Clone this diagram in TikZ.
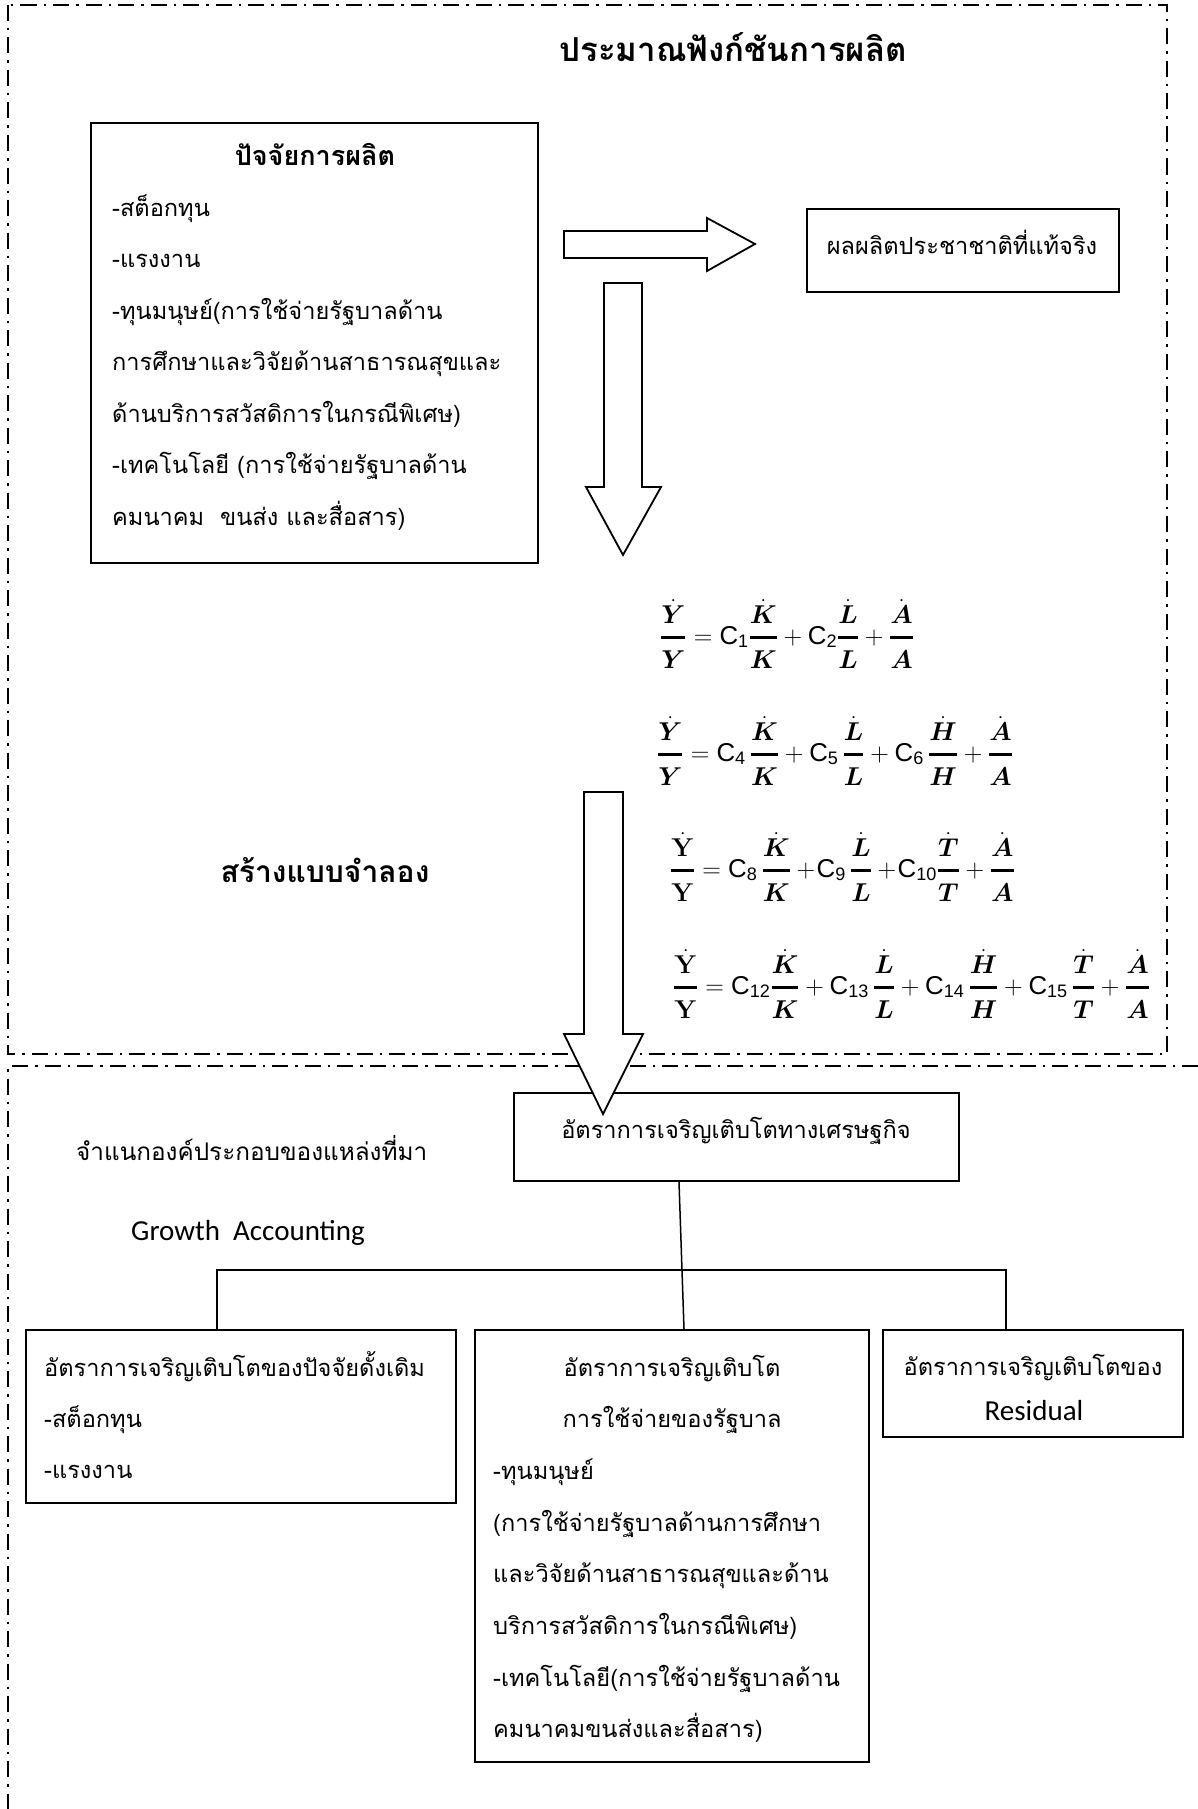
\RequirePackage{fix-cm}
\documentclass[tikz,border=0pt]{standalone}
\usepackage{amsmath}
\usepackage[no-math]{fontspec}
\setmainfont[Script=Thai]{Loma}
\newfontfamily\latinfont{Carlito}
\newfontfamily\eqfont{Liberation Sans}
% growth-rate fraction (dotted over plain) with a heavy rule and roomy gaps
\newcommand\fr[2]{\genfrac{}{}{2.7pt}{0}{#1\rule[-5pt]{0pt}{5pt}}{\rule{0pt}{21pt}#2}}
\newcommand\gr[1]{\fr{\dot{\boldsymbol{#1}}}{\boldsymbol{#1}}}
\newcommand\gy{\fr{\dot{\mathbf{Y}}}{\mathbf{Y}}}
% sans coefficient with its index
\newcommand\cc[1]{\text{\eqfont C}_{\text{\eqfont #1}}}
\begin{document}
\begin{tikzpicture}[x=1pt,y=-1pt,
  frame/.style={line width=1.6pt, dash pattern=on 16pt off 7pt on 2.5pt off 7pt},
  box/.style={draw, line width=2pt, inner sep=0pt},
  blockarrow/.style={draw, line width=1.8pt, fill=white, line join=miter},
  tree/.style={line width=1.5pt},
  txt/.style={inner sep=0pt, font=\fontsize{23.6}{28}\selectfont},
  ttl/.style={inner sep=0pt, font=\bfseries\fontsize{33}{38}\selectfont},
  sub/.style={inner sep=0pt, font=\bfseries\fontsize{27}{32}\selectfont},
  lat/.style={inner sep=0pt, font=\latinfont\fontsize{29}{34}\selectfont},
  eq/.style={inner sep=0pt, anchor=base west, font=\fontsize{25.8}{30}\selectfont}]
\useasboundingbox[fill=white] (0,0) rectangle (1198,1809);

% dash-dot frames of the two stages
\draw[frame] (8,5) rectangle (1167,1054);
\draw[frame] (1198,1066) -- (8,1066) -- (8,1809);

% ---------- upper stage: estimating the production function ----------
\node[ttl, anchor=base] (title) at (733,62) {ประมาณฟังก์ชันการผลิต};

\node[box, minimum width=447, minimum height=440] (fact) at (314.5,343) {};
\node[sub, anchor=base] (facttitle) at (315,165) {ปัจจัยการผลิต};
\foreach \t [count=\i] in {{-สต็อกทุน},{-แรงงาน},{-ทุนมนุษย์(การใช้จ่ายรัฐบาลด้าน},
  {การศึกษาและวิจัยด้านสาธารณสุขและ},{ด้านบริการสวัสดิการในกรณีพิเศษ)},
  {-เทคโนโลยี (การใช้จ่ายรัฐบาลด้าน},{คมนาคม~~ขนส่ง และสื่อสาร)}}
  \node[txt, anchor=base west] (fl\i) at (112,{216+51.5*(\i-1)}) {\t};

\node[box, minimum width=312, minimum height=83] (gdp) at (963,250.5) {};
\node[txt, anchor=base] (gdptext) at (962,254) {ผลผลิตประชาชาติที่แท้จริง};

% block arrows
\draw[blockarrow] (564,231) -- (707,231) -- (707,218) -- (755,244)
  -- (707,271) -- (707,258) -- (564,258) -- cycle;
\draw[blockarrow] (604,283) -- (642,283) -- (642,487) -- (661,487)
  -- (623,555) -- (586,487) -- (604,487) -- cycle;

% model equations
\node[eq] (eq1) at (660,644)
  {$\gr{Y} = \cc{1}\gr{K} + \cc{2}\gr{L} + \gr{A}$};
\node[eq] (eq2) at (657,761)
  {$\gr{Y} = \cc{4}\,\gr{K} + \cc{5}\,\gr{L} + \cc{6}\,\gr{H} + \gr{A}$};
\node[eq] (eq3) at (670,877)
  {$\gy = \cc{8}\,\gr{K} \mathbin{+}\!\cc{9}\,\gr{L} \mathbin{+}\!\cc{10}\gr{T} + \gr{A}$};
\node[eq] (eq4) at (673,994)
  {$\gy = \cc{12}\gr{K} + \cc{13}\,\gr{L} + \cc{14}\,\gr{H} + \cc{15}\,\gr{T} + \gr{A}$};

\node[sub, font=\bfseries\fontsize{30}{34}\selectfont, anchor=base] (model) at (325,882) {สร้างแบบจำลอง};

% ---------- lower stage: growth accounting ----------
\node[box, minimum width=445, minimum height=88] (econ) at (736.5,1137) {};
\node[txt, anchor=base] (econtext) at (736,1138) {อัตราการเจริญเติบโตทางเศรษฐกิจ};

\draw[blockarrow] (584,792) -- (623,792) -- (623,1034) -- (643,1034)
  -- (603,1114) -- (564,1034) -- (584,1034) -- cycle;

\node[txt, font=\fontsize{24.3}{28}\selectfont, anchor=base west] (decomp) at (76,1160) {จำแนกองค์ประกอบของแหล่งที่มา};
\node[lat, anchor=base west] (ga) at (131,1240) {Growth~~Accounting};

\node[box, minimum width=430, minimum height=173] (orig) at (241,1416.5) {};
\foreach \t [count=\i] in {{อัตราการเจริญเติบโตของปัจจัยดั้งเดิม},{-สต็อกทุน},{-แรงงาน}}
  \node[txt, anchor=base west] (ol\i) at (44,{1376+51*(\i-1)}) {\t};

\node[box, minimum width=394, minimum height=432] (gov) at (672,1546) {};
\node[txt, anchor=base] (gl1) at (672,1376) {อัตราการเจริญเติบโต};
\node[txt, anchor=base] (gl2) at (672,1427.7) {การใช้จ่ายของรัฐบาล};
\foreach \t [count=\i from 3] in {{-ทุนมนุษย์},{(การใช้จ่ายรัฐบาลด้านการศึกษา},
  {และวิจัยด้านสาธารณสุขและด้าน},{บริการสวัสดิการในกรณีพิเศษ)},
  {-เทคโนโลยี(การใช้จ่ายรัฐบาลด้าน},{คมนาคมขนส่งและสื่อสาร)}}
  \node[txt, anchor=base west] (gl\i) at (493,{1376+51.7*(\i-1)}) {\t};

\node[box, minimum width=300, minimum height=107] (resid) at (1033,1383.5) {};
\node[txt, anchor=base] (rl1) at (1033,1375) {อัตราการเจริญเติบโตของ};
\node[lat, anchor=base] (rl2) at (1034,1420) {Residual};

% tree connectors
\draw[tree] ([xshift=-57.5pt]econ.south) -- ([xshift=12pt]gov.north);
\draw[tree] ([xshift=-24pt]orig.north) -- ++(0,-59) -| ([xshift=-27pt]resid.north);
\end{tikzpicture}
\end{document}
